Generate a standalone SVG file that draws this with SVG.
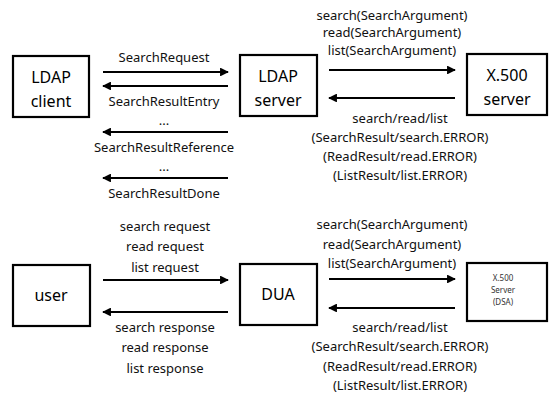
<svg xmlns="http://www.w3.org/2000/svg" width="551" height="399" viewBox="0 0 551 399">
<style>
.box{fill:#fff;stroke:#000;stroke-width:2.2}
.lbl{font-family:"Noto Sans","Open Sans",sans-serif;font-size:13px;fill:#111;text-anchor:middle}
.nl{font-family:"Noto Sans","Open Sans",sans-serif;font-size:16px;fill:#000;text-anchor:middle}
.sm{font-family:"Noto Sans","Open Sans",sans-serif;font-size:8px;fill:#333;text-anchor:middle}
.ar{stroke:#000;stroke-width:2.2;fill:none;marker-end:url(#ah)}
</style>
<defs>
<marker id="ah" viewBox="0 0 10 10" refX="9" refY="5" markerWidth="4" markerHeight="4" orient="auto" markerUnits="strokeWidth">
<path d="M0,0 L10,5 L0,10 z" fill="#000"/>
</marker>
</defs>
<rect width="551" height="399" fill="#fff"/>
<g id="ldap-client"><rect class="box" x="13" y="56" width="76" height="61"/><text class="nl" x="51" y="83">LDAP</text><text class="nl" x="51" y="107">client</text></g>
<g id="ldap-server"><rect class="box" x="240" y="55" width="77" height="61"/><text class="nl" x="278" y="82">LDAP</text><text class="nl" x="278" y="106">server</text></g>
<g id="x500-server"><rect class="box" x="467" y="54" width="80" height="61"/><text class="nl" x="507" y="81">X.500</text><text class="nl" x="507" y="105">server</text></g>
<g id="user"><rect class="box" x="13" y="265" width="77" height="61"/><text class="nl" x="51" y="301">user</text></g>
<g id="dua"><rect class="box" x="240" y="264" width="77" height="61"/><text class="nl" x="278" y="300">DUA</text></g>
<g id="dsa"><rect class="box" x="467" y="263" width="80" height="58"/><text class="sm" x="503" y="281">X.500</text><text class="sm" x="503" y="293">Server</text><text class="sm" x="503" y="305">(DSA)</text></g>
<g id="connectors">
<line class="ar" x1="103" y1="72" x2="228" y2="72"/>
<line class="ar" x1="228" y1="86" x2="103" y2="86"/>
<line class="ar" x1="228" y1="132" x2="103" y2="132"/>
<line class="ar" x1="228" y1="178" x2="103" y2="178"/>
<line class="ar" x1="329" y1="70" x2="455" y2="70"/>
<line class="ar" x1="455" y1="98" x2="329" y2="98"/>
<line class="ar" x1="103" y1="280" x2="228" y2="280"/>
<line class="ar" x1="228" y1="312" x2="103" y2="312"/>
<line class="ar" x1="329" y1="279" x2="455" y2="279"/>
<line class="ar" x1="455" y1="308" x2="329" y2="308"/>
</g>
<g id="labels">
<text class="lbl" x="164" y="62">SearchRequest</text>
<text class="lbl" x="164" y="106">SearchResultEntry</text>
<text class="lbl" x="164" y="125">...</text>
<text class="lbl" x="164" y="152">SearchResultReference</text>
<text class="lbl" x="164" y="171">...</text>
<text class="lbl" x="164" y="198">SearchResultDone</text>
<text class="lbl" x="392" y="20">search(SearchArgument)</text>
<text class="lbl" x="392" y="37">read(SearchArgument)</text>
<text class="lbl" x="392" y="55">list(SearchArgument)</text>
<text class="lbl" x="400" y="123">search/read/list</text>
<text class="lbl" x="400" y="142">(SearchResult/search.ERROR)</text>
<text class="lbl" x="400" y="161">(ReadResult/read.ERROR)</text>
<text class="lbl" x="400" y="180">(ListResult/list.ERROR)</text>
<text class="lbl" x="165" y="231">search request</text>
<text class="lbl" x="165" y="251">read request</text>
<text class="lbl" x="165" y="272">list request</text>
<text class="lbl" x="165" y="332">search response</text>
<text class="lbl" x="165" y="352">read response</text>
<text class="lbl" x="165" y="373">list response</text>
<text class="lbl" x="392" y="229">search(SearchArgument)</text>
<text class="lbl" x="392" y="249">read(SearchArgument)</text>
<text class="lbl" x="392" y="268">list(SearchArgument)</text>
<text class="lbl" x="400" y="332">search/read/list</text>
<text class="lbl" x="400" y="351">(SearchResult/search.ERROR)</text>
<text class="lbl" x="400" y="371">(ReadResult/read.ERROR)</text>
<text class="lbl" x="400" y="390">(ListResult/list.ERROR)</text>
</g>
</svg>
